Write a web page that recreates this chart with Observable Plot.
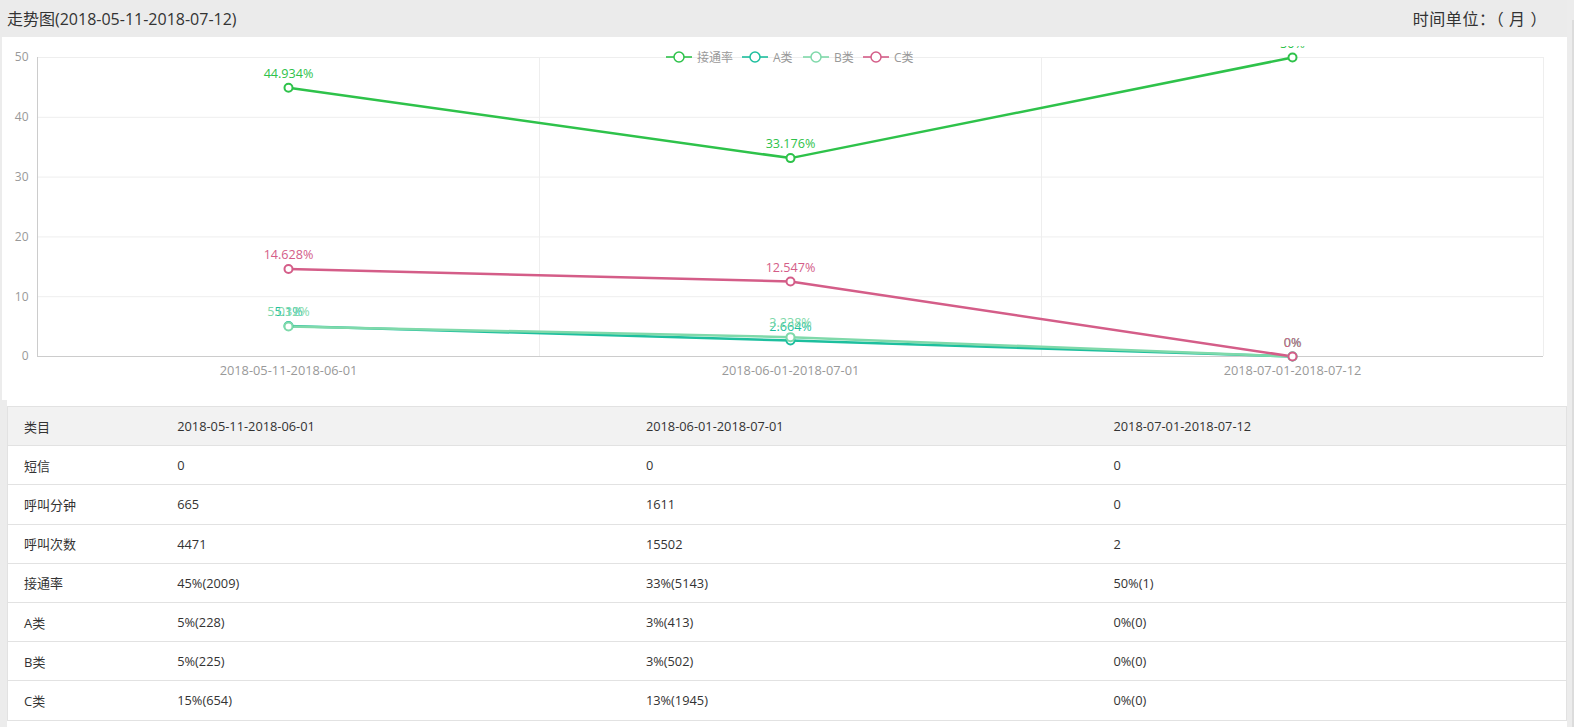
<!DOCTYPE html>
<html>
<head>
<meta charset="utf-8">
<script src="https://cdn.jsdelivr.net/npm/d3@7"></script>
<script src="https://cdn.jsdelivr.net/npm/@observablehq/plot@0.6"></script>
<style>
  body { margin:0; background:#ececec; font-family:"Open Sans","Noto Sans CJK SC",sans-serif; width:1574px; height:727px; overflow:hidden; position:relative; }
  #hdr { position:absolute; left:0; top:0; width:1567px; height:37px; background:#ebebeb; color:#333; font-size:16px; }
  #title { position:absolute; left:7px; top:6px; }
  #unit { position:absolute; right:20px; top:6px; white-space:pre; letter-spacing:0.6px; }
  #panel { position:absolute; left:2px; top:37px; width:1565px; height:690px; background:#fff; }
  #chart { position:absolute; left:0; top:9px; }
  #legend { position:absolute; top:11px; left:0; width:1565px; height:18px; font-size:12px; color:#999; }
  .li { position:absolute; top:0; height:18px; display:flex; align-items:center; }
  .li svg { margin-right:5px; }
  #leftstrip { position:absolute; left:2px; top:400px; width:5px; height:327px; background:#ececec; }
  #rightstrip { position:absolute; left:1572px; top:20px; width:2px; height:707px; background:#dcdcdc; }
  table { position:absolute; left:7px; top:406px; width:1559px; border-collapse:collapse; font-size:12.8px; color:#333; table-layout:fixed; }
  tr { height:39.2px; }
  td { border-top:1px solid #e2e2e2; border-bottom:1px solid #e2e2e2; padding:0 0 0 16px; }
  tr.head td { background:#f2f2f2; }
  table { border-left:1px solid #e2e2e2; border-right:1px solid #e2e2e2; }
  td.c0 { font-size:13px; }
</style>
</head>
<body>
<div id="hdr"><div id="title">走势图(2018-05-11-2018-07-12)</div><div id="unit">时间单位：（ 月 ）</div></div>
<div id="panel"><div id="chart"></div><div id="legend"></div></div>
<div id="leftstrip"></div>
<div id="rightstrip"></div>
<script>
// ---- data ----
const categories = ["2018-05-11-2018-06-01", "2018-06-01-2018-07-01", "2018-07-01-2018-07-12"];
const seriesNames = ["接通率", "A类", "B类", "C类"];
const seriesColors = ["#2ec24a", "#1dbf9e", "#7fd9aa", "#d45d88"];
const rateValues = [44.934, 33.176, 50];
const aValues = [5.1, 2.664, 0];
const bValues = [5.032, 3.238, 0];
const cValues = [14.628, 12.547, 0];
const yTicks = [0, 10, 20, 30, 40, 50];

const tableHeader = ["类目", ...categories];
const rowLabels = ["短信", "呼叫分钟", "呼叫次数", "接通率", "A类", "B类", "C类"];
const smsRow = ["0", "0", "0"];
const minutesRow = ["665", "1611", "0"];
const callsRow = ["4471", "15502", "2"];
const rateRow = ["45%(2009)", "33%(5143)", "50%(1)"];
const aRow = ["5%(228)", "3%(413)", "0%(0)"];
const bRow = ["5%(225)", "3%(502)", "0%(0)"];
const cRow = ["15%(654)", "13%(1945)", "0%(0)"];

// ---- chart ----
const allValues = [rateValues, aValues, bValues, cValues];
const data = [];
seriesNames.forEach((s, si) => allValues[si].forEach((v, i) => data.push({series: s, i, v})));
const bounds = categories.map((c, i) => i + 0.5);

const chart = Plot.plot({
  width: 1565,
  height: 355,
  marginLeft: 35,
  marginRight: 24,
  marginTop: 11,
  marginBottom: 45,
  style: {fontSize: "12px", fontFamily: "'Open Sans','Noto Sans CJK SC',sans-serif", color: "#999", background: "transparent"},
  x: {domain: [-0.5, categories.length - 0.5], axis: null},
  y: {domain: [0, 50], axis: null},
  color: {domain: seriesNames, range: seriesColors},
  marks: [
    Plot.ruleY(yTicks.slice(1), {stroke: "#eeeeee", strokeWidth: 1}),
    Plot.ruleX(bounds, {stroke: "#eeeeee", strokeWidth: 1}),
    Plot.ruleX([-0.5], {stroke: "#cccccc"}),
    Plot.ruleY([0], {stroke: "#cccccc"}),
    Plot.axisY(yTicks, {tickSize: 0, tickPadding: 9, fill: "#999", fontSize: 12, label: null}),
    Plot.axisX(categories.map((c, i) => i), {tickSize: 0, tickPadding: 9, tickFormat: i => categories[i], fill: "#999", fontSize: 12.8, label: null}),
    Plot.line(data, {x: "i", y: "v", z: "series", stroke: "series", strokeWidth: 2.5}),
    Plot.dot(data, {x: "i", y: "v", stroke: "series", fill: "white", r: 4, strokeWidth: 2}),
    Plot.text(data, {x: "i", y: "v", text: d => `${d.v}%`, fill: "series", dy: -14, fontSize: 12.6})
  ]
});
document.getElementById("chart").appendChild(chart);

// ---- legend ----
const legend = document.getElementById("legend");
const legendX = [666, 742, 803, 863];
seriesNames.forEach((s, k) => {
  const d = document.createElement("div");
  d.className = "li";
  d.style.left = (legendX[k] - 2) + "px";
  d.innerHTML = `<svg width="26" height="14"><line x1="0" x2="26" y1="7" y2="7" stroke="${seriesColors[k]}" stroke-width="2" opacity="0.8"/><circle cx="13" cy="7" r="5" fill="white" stroke="${seriesColors[k]}" stroke-width="1.5"/></svg><span>${s}</span>`;
  legend.appendChild(d);
});

// ---- table ----
const rows = [smsRow, minutesRow, callsRow, rateRow, aRow, bRow, cRow];
const table = document.createElement("table");
const colW = [153.7, 468.7, 467.6, 469];
const colgroup = document.createElement("colgroup");
colW.forEach(w => { const c = document.createElement("col"); c.style.width = w + "px"; colgroup.appendChild(c); });
table.appendChild(colgroup);
const mk = (cells, head) => {
  const tr = document.createElement("tr");
  if (head) tr.className = "head";
  cells.forEach((c, j) => {
    const td = document.createElement("td");
    td.textContent = c;
    if (j === 0) td.className = "c0";
    tr.appendChild(td);
  });
  table.appendChild(tr);
};
mk(tableHeader, true);
rows.forEach((r, k) => mk([rowLabels[k], ...r], false));
document.body.appendChild(table);
</script>
</body>
</html>
